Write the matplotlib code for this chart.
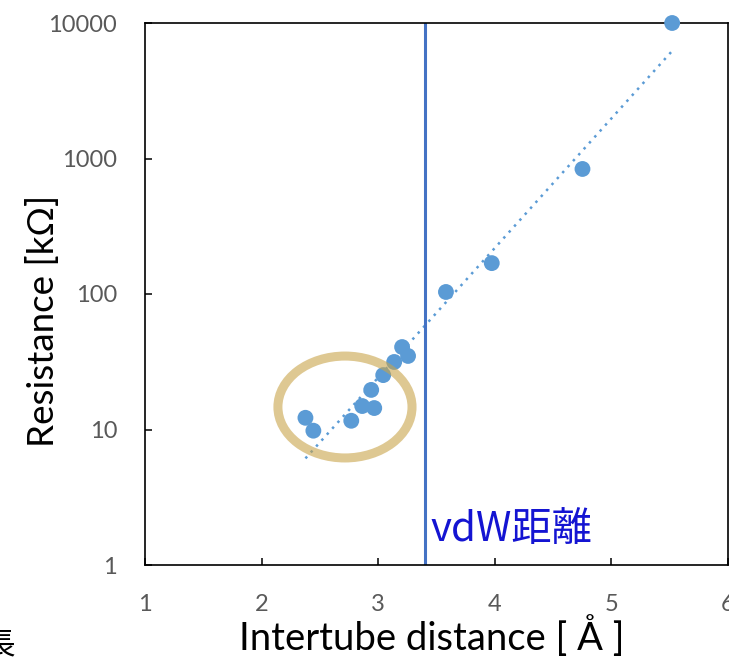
import numpy as np
import matplotlib
matplotlib.use("Agg")
import matplotlib.pyplot as plt
from matplotlib.patches import Ellipse
import matplotlib.transforms as mtransforms

# Data
distance = [2.376, 2.444, 2.769, 2.863, 2.94, 2.966, 3.043, 3.137, 3.205, 3.256, 3.581, 3.974, 4.752, 5.521]
resistance = [12.2, 9.8, 11.6, 14.9, 19.6, 14.4, 25.2, 31.5, 40.6, 34.9, 103.5, 169, 837, 10000]
vdw_distance = 3.4
x_ticks = [1, 2, 3, 4, 5, 6]
y_ticks = [1, 10, 100, 1000, 10000]
y_ticklabels = ["1", "10", "100", "1000", "10000"]

plt.rcParams['font.family'] = ['Lato', 'DejaVu Sans']

fig = plt.figure(figsize=(7.29, 6.58), dpi=100)
ax = fig.add_axes([145/729, 93/658, 583/729, 542/658])

ax.set_yscale('log')
ax.set_xlim(1, 6)
ax.set_ylim(1, 10000)

# trendline (exponential fit)
xd = np.array(distance)
yd = np.array(resistance)
coef = np.polyfit(xd, np.log10(yd), 1)
xt = np.linspace(xd.min(), xd.max(), 100)
ax.plot(xt, 10**np.polyval(coef, xt), linestyle=(0, (1, 2.2)), color='#5B9BD5', lw=1.8, zorder=2)

ax.scatter(distance, resistance, s=130, color='#5B9BD5', edgecolors='none', zorder=3, clip_on=False)

ax.axvline(vdw_distance, color='#4472C4', lw=2.2, zorder=2)

ell = Ellipse((0.343, 0.2915), 0.23, 0.188, transform=ax.transAxes, fill=False,
              edgecolor='#C9A44A', alpha=0.6, lw=6.5, zorder=4)
ax.add_patch(ell)

trans = mtransforms.blended_transform_factory(ax.transData, ax.transAxes)
ax.text(3.444, 0.028, "vdW距離", transform=trans, ha='left', va='bottom',
        fontsize=29, color='#1414D2', family=['Noto Sans CJK JP', 'DejaVu Sans'])

ax.set_xticks(x_ticks)
ax.set_xticklabels([str(t) for t in x_ticks])
ax.set_yticks(y_ticks)
ax.set_yticklabels(y_ticklabels)
ax.minorticks_off()
ax.tick_params(axis='both', direction='in', length=5, width=1.1, labelsize=17, labelcolor='#595959')
ax.tick_params(axis='x', pad=21)
ax.tick_params(axis='y', pad=20)

for sp in ax.spines.values():
    sp.set_linewidth(1.2)
    sp.set_color('black')

ax.set_xlabel("Intertube distance [ Å ]", fontsize=27.5)
ax.xaxis.set_label_coords(0.492, -0.092)
ax.set_ylabel("Resistance [kΩ]", fontsize=26.5)
ax.yaxis.set_label_coords(-0.146, 0.45)

fig.text(15/729, 13/658, "長", ha='right', va='center', fontsize=22,
         family=['Noto Sans CJK JP', 'DejaVu Sans'])

fig.savefig("out.png", dpi=100)
